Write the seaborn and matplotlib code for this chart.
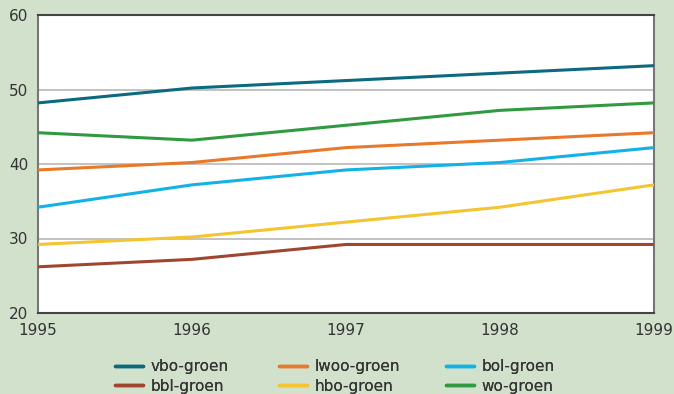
import matplotlib
matplotlib.use("Agg")
import matplotlib.pyplot as plt
import seaborn as sns
import pandas as pd
from matplotlib.lines import Line2D

years = [1995, 1996, 1997, 1998, 1999]
vbo = [48.2, 50.2, 51.2, 52.2, 53.2]
lwoo = [39.2, 40.2, 42.2, 43.2, 44.2]
bol = [34.2, 37.2, 39.2, 40.2, 42.2]
bbl = [26.2, 27.2, 29.2, 29.2, 29.2]
hbo = [29.2, 30.2, 32.2, 34.2, 37.2]
wo = [44.2, 43.2, 45.2, 47.2, 48.2]

series = {"vbo-groen": vbo, "lwoo-groen": lwoo, "bol-groen": bol,
          "bbl-groen": bbl, "hbo-groen": hbo, "wo-groen": wo}
colors = {"vbo-groen": "#0b6a80", "lwoo-groen": "#e8782a", "bol-groen": "#12b2e6",
          "bbl-groen": "#a0452f", "hbo-groen": "#f4c431", "wo-groen": "#2f9a3f"}

rows = []
for name, vals in series.items():
    for y, v in zip(years, vals):
        rows.append({"year": y, "value": v, "series": name})
df = pd.DataFrame(rows)

bg = "#d1e1cb"
sns.set_style("white")
plt.rcParams["font.family"] = ["DejaVu Sans"]
fig = plt.figure(figsize=(6.74, 3.94), dpi=100, facecolor=bg)
ax = fig.add_axes([38/674, 1-313/394, (654-38)/674, (313-15)/394])
ax.set_facecolor("white")

for y in [30, 40, 50]:
    ax.axhline(y, color="#b8b8b8", lw=1.2, zorder=0)

sns.lineplot(data=df, x="year", y="value", hue="series", palette=colors,
             linewidth=2.2, ax=ax, legend=False, zorder=3)

ax.set_xlim(1995, 1999)
ax.set_ylim(20, 60)
ax.set_xticks(years)
ax.set_xticklabels([str(y) for y in years])
ax.set_yticks([20, 30, 40, 50, 60])
ax.set_xlabel("")
ax.set_ylabel("")
ax.tick_params(axis="both", labelsize=11, colors="#333333", length=6, width=1,
               direction="out", pad=1)
ax.tick_params(axis="both", color="#aaaaaa")
for side in ["left", "right"]:
    ax.spines[side].set_color("#777777")
    ax.spines[side].set_linewidth(1.5)
for side in ["top", "bottom"]:
    ax.spines[side].set_color("#444444")
    ax.spines[side].set_linewidth(1.5)

columns = [["vbo-groen", "bbl-groen"], ["lwoo-groen", "hbo-groen"], ["bol-groen", "wo-groen"]]
col_x = [115, 279, 446]
for names, x0 in zip(columns, col_x):
    handles = [Line2D([0], [0], color=colors[n], lw=2.5) for n in names]
    leg = fig.legend(handles, names, loc="upper left", bbox_to_anchor=(x0/674, 1-359/394),
                     ncol=1, frameon=False, fontsize=11, handlelength=1.85,
                     handletextpad=0.45, labelspacing=0.3, borderaxespad=0, borderpad=0,
                     labelcolor="#333333")
    fig.add_artist(leg)

fig.savefig("out.png", dpi=100, facecolor=bg)
